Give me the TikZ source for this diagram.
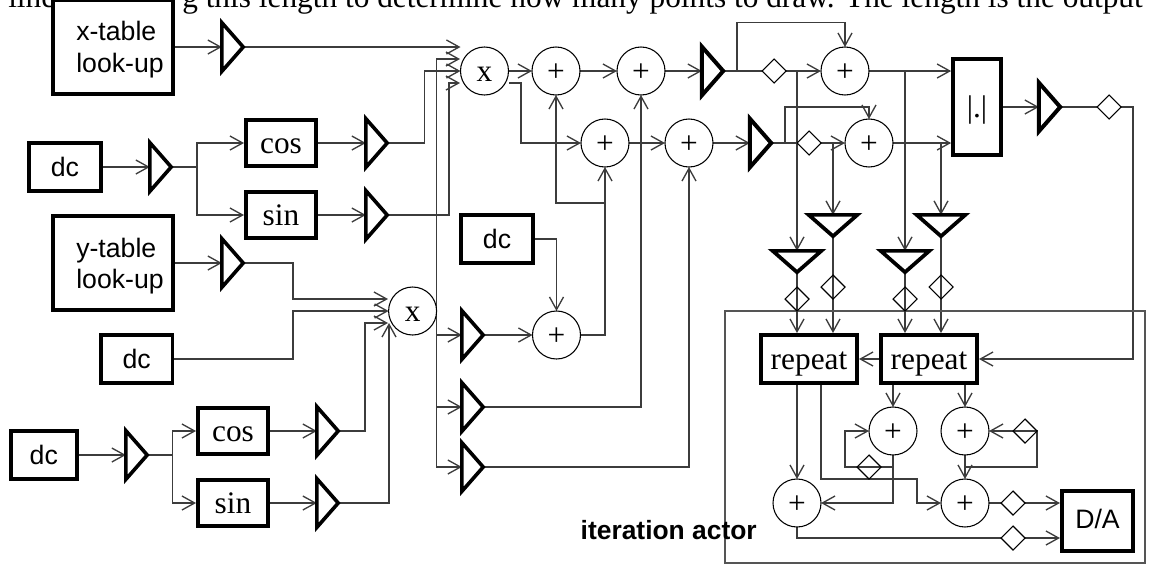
\documentclass[tikz,border=0pt]{standalone}
\usepackage{fontspec}
\setmainfont{Liberation Serif}
\setsansfont{Liberation Sans}
\usetikzlibrary{arrows.meta,shapes.geometric,backgrounds}
\definecolor{WireGray}{HTML}{3C3C3C}
\definecolor{FrameGray}{HTML}{555555}
\tikzset{
  line/.style={line width=1pt, draw=WireGray},
  wire/.style={line, -{Straight Barb[length=9.5pt,width=10.5pt]}},
  block/.style={draw=black, fill=white, line width=2.8pt, inner sep=0pt, align=center},
  sanslabel/.style={font=\fontsize{20}{23.5}\selectfont\sffamily},
  seriflabel/.style={font=\fontsize{23.5}{26}\selectfont, text height=16pt, text depth=0pt},
  tabbox/.style={block, sanslabel, align=left, text depth=0pt, minimum width=89.6pt, minimum height=71pt},
  dcbox/.style={block, sanslabel, minimum width=53.6pt, minimum height=35.5pt},
  fnbox/.style={block, seriflabel, minimum width=52.7pt, minimum height=35pt},
  repbox/.style={block, seriflabel, minimum width=72.2pt, minimum height=36.2pt},
  gain/.style={isosceles triangle, isosceles triangle stretches, draw=black, fill=white,
    line width=2.7pt, inner sep=0pt, outer sep=0pt, minimum width=36.5pt, minimum height=16pt,
    anchor=lower side, xshift=1.4pt},
  heavygain/.style={gain, line width=3pt},
  downgain/.style={gain, line width=2.8pt, shape border rotate=270, xshift=-1.4pt, yshift=-1.4pt},
  delay/.style={diamond, draw=black, line width=.8pt, inner sep=0pt, outer sep=0pt,
    minimum width=18pt, minimum height=18pt},
  adder/.style={ellipse, draw=black, fill=white, line width=.8pt, inner sep=0pt, outer sep=0pt,
    minimum width=36pt, minimum height=36pt, seriflabel},
  toptext/.style={inner sep=0pt, font=\fontsize{23.5}{26}\selectfont},
}
\begin{document}
\begin{tikzpicture}[x=0.75pt,y=-0.75pt]
  \useasboundingbox (0,0) rectangle (1149,565);
  \node[toptext,anchor=base west] (linea) at (8,7.5) {line};
  \node[toptext,anchor=base east] (lineb) at (1143,7.5) {g this length to determine how many points to draw. The length is the output};
  \node[draw=FrameGray,line width=1pt,minimum width=315pt,minimum height=189pt] (iter) at (935,437) {};
  \node[anchor=east,inner sep=0pt,font=\fontsize{19.8}{22}\selectfont\sffamily\bfseries] (iterlabel) at (757,530) {iteration actor};

  \node[tabbox] (xtab) at (113,47) {\hspace*{10.5pt}x-table\\\hspace*{10.5pt}look-up};
  \node[tabbox] (ytab) at (113,263) {\hspace*{10.5pt}y-table\\\hspace*{10.5pt}look-up};
  \node[dcbox] (dca) at (65,167) {dc};
  \node[dcbox] (dcb) at (136.7,359) {dc};
  \node[dcbox,minimum width=49.4pt] (dcc) at (43.8,455) {dc};
  \node[dcbox] (dcd) at (497,239) {dc};
  \node[fnbox] (cosa) at (281,143) {cos};
  \node[fnbox] (sina) at (281,215) {sin};
  \node[fnbox] (cosb) at (233,431) {cos};
  \node[fnbox] (sinb) at (233,503) {sin};
  \node[repbox] (repa) at (809,359) {repeat};
  \node[repbox] (repb) at (929,359) {repeat};
  \node[block,seriflabel,minimum width=36pt,minimum height=72pt] (abs) at (977,107) {|.|};
  \node[dcbox,minimum width=53.5pt,minimum height=45.2pt] (da) at (1097.5,521) {\raisebox{3.5pt}{D/A}};

  \node[gain] (gxt) at (220,47) {};
  \node[gain] (gdc) at (148,167) {};
  \node[gain] (gca) at (364,143) {};
  \node[gain] (gsa) at (364,215) {};
  \node[gain] (gyt) at (220,263) {};
  \node[gain] (gdd) at (124,455) {};
  \node[gain] (gcb) at (315,431) {};
  \node[gain] (gsb) at (315,503) {};
  \node[gain] (gpa) at (460,335) {};
  \node[gain] (gpb) at (460,407) {};
  \node[gain] (gpc) at (460,467) {};
  \node[heavygain] (gtop) at (700,71) {};
  \node[heavygain] (gmid) at (748,143) {};
  \node[heavygain] (gout) at (1037,107) {};
  \node[downgain] (gda) at (797,249) {};
  \node[downgain] (gdb) at (833,213) {};
  \node[downgain] (gdc2) at (905,249) {};
  \node[downgain] (gdd2) at (941,213) {};

  \node[delay] (dla) at (774,71) {};
  \node[delay] (dlb) at (809,143) {};
  \node[delay] (dlc) at (1109,107) {};
  \node[delay] (dld) at (797,299) {};
  \node[delay] (dle) at (833,287) {};
  \node[delay] (dlf) at (905,299) {};
  \node[delay] (dlg) at (941,287) {};
  \node[delay] (dlh) at (869,467) {};
  \node[delay] (dli) at (1025,431) {};
  \node[delay] (dlj) at (1013,503) {};
  \node[delay] (dlk) at (1013,538) {};

  \node[adder] (mula) at (484.5,71) {x};
  \node[adder] (mulb) at (412.6,311) {x};
  \node[adder] (adda) at (556,71) {+};
  \node[adder] (addb) at (641,71) {+};
  \node[adder] (addc) at (605,143) {+};
  \node[adder] (addd) at (689,143) {+};
  \node[adder] (adde) at (845,71) {+};
  \node[adder] (addf) at (869,143) {+};
  \node[adder] (addg) at (556.5,335) {+};
  \node[adder] (addh) at (893,431) {+};
  \node[adder] (addi) at (965,431) {+};
  \node[adder] (addj) at (797,503) {+};
  \node[adder] (addk) at (965,503) {+};

  \coordinate (mib) at (460,59);
  \coordinate (mid) at (460,83);
  \coordinate (mob) at (509,83);
  \coordinate (mja) at (388,299);
  \coordinate (mjc) at (388,323);
  \coordinate (mjd) at (389,323);
  \coordinate (tapa) at (737,71);
  \coordinate (tapb) at (785,143);
  \coordinate (tapc) at (605,203);
  \coordinate (repo) at (821,385);

  \begin{pgfonlayer}{background}
  \draw[wire] (xtab) -- (gxt.lower side);
  \draw[wire] (gxt.apex) -- (gxt.apex -| mula.west);
  \draw[wire] (dca) -- (gdc.lower side);
  \draw[wire] (gdc.apex) -- (197,167) |- (cosa.west);
  \draw[wire] (gdc.apex) -- (197,167) |- (sina.west);
  \draw[wire] (cosa) -- (gca.lower side);
  \draw[wire] (sina) -- (gsa.lower side);
  \draw[wire] (gca.apex) -- (424.6,143) |- (mula.west);
  \draw[wire] (gsa.apex) -- (449,215) |- (mid);
  \draw[wire] (ytab.east |- gyt.lower side) -- (gyt.lower side);
  \draw[wire] (gyt.apex) -- (293,263) |- (mja);
  \draw[wire] (dcb) -- (293,359) |- (mulb.west);
  \draw[wire] (dcc) -- (gdd.lower side);
  \draw[wire] (gdd.apex) -- (172.7,455) |- (cosb.west);
  \draw[wire] (gdd.apex) -- (172.7,455) |- (sinb.west);
  \draw[wire] (cosb) -- (gcb.lower side);
  \draw[wire] (sinb) -- (gsb.lower side);
  \draw[wire] (gcb.apex) -- (365,431) |- (mjc);
  \draw[wire] (gsb.apex) -| (mjd);
  \draw[wire] (mulb.east) |- (mib);
  \draw[wire] (mulb.east) |- (gpa.lower side);
  \draw[wire] (mulb.east) |- (gpb.lower side);
  \draw[wire] (mulb.east) |- (gpc.lower side);
  \draw[wire] (mula) -- (adda);
  \draw[wire] (mob) -- (521,83) |- (addc.west);
  \draw[wire] (adda) -- (addb);
  \draw[wire] (addb) -- (gtop.lower side);
  \draw[line] (gtop.apex) -- (dla.west);
  \draw[wire] (dla.east) -- (adde.west);
  \draw[wire] (tapa) -- (737,22.7) -| (adde.north);
  \draw[wire] (gda.lower side |- dla.east) -- (gda.lower side);
  \draw[wire] (addc) -- (addd);
  \draw[wire] (addd) -- (gmid.lower side);
  \draw[line] (gmid.apex) -- (dlb.west);
  \draw[wire] (dlb.east) -- (addf.west);
  \draw[wire] (tapb) -- (785,107) -| (addf.north);
  \draw[wire] (gdb.lower side |- dlb.east) -- (gdb.lower side);
  \draw[wire] (adde.east) -- (adde.east -| abs.west);
  \draw[wire] (gdc2.lower side |- adde.east) -- (gdc2.lower side);
  \draw[wire] (addf.east) -- (addf.east -| abs.west);
  \draw[wire] (gdd2.lower side |- addf.east) -- (gdd2.lower side);
  \draw[wire] (abs) -- (gout.lower side);
  \draw[line] (gout.apex) -- (dlc.west);
  \draw[wire] (dlc.east) -- (1133,107) |- (repb.east);
  \draw[wire] (gda.apex) -- (gda.apex |- repa.north);
  \draw[wire] (gdb.apex) -- (gdb.apex |- repa.north);
  \draw[wire] (gdc2.apex) -- (gdc2.apex |- repb.north);
  \draw[wire] (gdd2.apex) -- (gdd2.apex |- repb.north);
  \draw[wire] (repb) -- (repa);
  \draw[wire] (addj.north |- repa.south) -- (addj.north);
  \draw[wire] (repo) |- (917,479) |- (addk.west);
  \draw[wire] (addh.north |- repb.south) -- (addh.north);
  \draw[wire] (addi.north |- repb.south) -- (addi.north);
  \draw[wire] (addh.south) |- (addj.east);
  \draw[wire] (addh.south |- dlh) -- (845,467) |- (addh.west);
  \draw[wire] (addi) -- (addk);
  \draw[wire] (addi.south |- dlh) -- (1037,467) |- (addi.east);
  \draw[line] (addk.east) -- (dlj.west);
  \draw[wire] (dlj.east) -- (dlj.east -| da.west);
  \draw[line] (addj.south) |- (dlk.west);
  \draw[wire] (dlk.east) -- (dlk.east -| da.west);
  \draw[wire] (gpa.apex) -- (addg.west);
  \draw[wire] (addg.east) -| (addc.south);
  \draw[wire] (tapc) -| (adda.south);
  \draw[wire] (dcd.east) -| (addg.north);
  \draw[wire] (gpb.apex) -| (addb.south);
  \draw[wire] (gpc.apex) -| (addd.south);
  \end{pgfonlayer}
\end{tikzpicture}
\end{document}
